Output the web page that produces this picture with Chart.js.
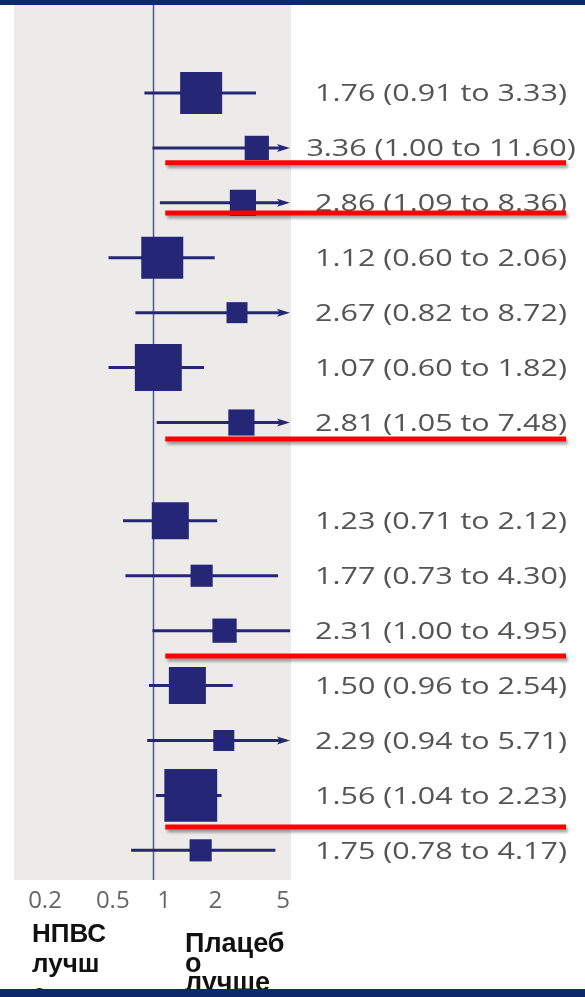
<!DOCTYPE html>
<html>
<head>
<meta charset="utf-8">
<title>Forest plot</title>
<script src="https://cdn.jsdelivr.net/npm/chart.js@4/dist/chart.umd.min.js"></script>
<style>
  html, body { margin: 0; padding: 0; background: #fff; }
  #wrap { position: relative; width: 585px; height: 997px; overflow: hidden; }
  #plot { position: absolute; left: 0; top: 0; }
  .favour {
    position: absolute;
    font-family: "Liberation Sans", Arial, sans-serif;
    font-weight: bold;
    color: #111;
    overflow-wrap: anywhere;
  }
  #favLeft  { left: 32px;  top: 918px; width: 78px;  font-size: 26px; line-height: 30px; }
  #favRight { left: 185px; top: 934px; width: 103px; font-size: 27px; line-height: 19.5px; }
  .band { position: absolute; left: 0; width: 585px; background: #0c2a69; z-index: 2; }
</style>
</head>
<body>
<div id="wrap">
  <canvas id="plot" width="585" height="997"></canvas>
  <div class="favour" id="favLeft"></div>
  <div class="favour" id="favRight"></div>
  <div class="band" style="top:0;height:5px"></div>
  <div class="band" style="top:989px;height:8px"></div>
</div>
<script>
// Odds ratios with 95% confidence intervals, top to bottom
const ratio  = [1.76, 3.36, 2.86, 1.12, 2.67, 1.07, 2.81, 1.23, 1.77, 2.31, 1.50, 2.29, 1.56, 1.75];
const lower  = [0.91, 1.00, 1.09, 0.60, 0.82, 0.60, 1.05, 0.71, 0.73, 1.00, 0.96, 0.94, 1.04, 0.78];
const upper  = [3.33, 11.60, 8.36, 2.06, 8.72, 1.82, 7.48, 2.12, 4.30, 4.95, 2.54, 5.71, 2.23, 4.17];
// Relative study weights (box area)
const weights = [36, 12, 14, 36, 9, 45, 14, 28, 10, 12, 28, 9, 57, 10];
// Which block each study belongs to
const panel   = [0, 0, 0, 0, 0, 0, 0, 1, 1, 1, 1, 1, 1, 1];
// Axis tick values and the direction captions under the axis
const xTickValues = [0.2, 0.5, 1, 2, 5];
const favourText  = ['НПВС лучше', 'Плацебо лучше'];

document.getElementById('favLeft').textContent  = favourText[0];
document.getElementById('favRight').textContent = favourText[1];

const NAVY = '#262677';
const PANEL_GAP = 0.79;           // extra spacing between the two blocks, in rows
const rowPos = ratio.map((_, i) => i + panel[i] * PANEL_GAP);
const rowLabels = ratio.map((r, i) =>
  `${r.toFixed(2)} (${lower[i].toFixed(2)} to ${upper[i].toFixed(2)})`);

const forestPlugin = {
  id: 'forest',
  beforeDraw(chart) {
    const { ctx, chartArea: a } = chart;
    ctx.save();
    ctx.fillStyle = '#ecebe9';
    ctx.fillRect(a.left, a.top, a.right - a.left, a.bottom - a.top);
    ctx.restore();
  },
  beforeDatasetsDraw(chart) {
    const { ctx, chartArea: a, scales } = chart;
    const xs = scales.x, ys = scales.y;
    ctx.save();
    // line of no effect
    const x1 = Math.round(xs.getPixelForValue(1)) + 0.5;
    ctx.strokeStyle = '#55558f';
    ctx.lineWidth = 1.5;
    ctx.beginPath();
    ctx.moveTo(x1, 0);
    ctx.lineTo(x1, a.bottom);
    ctx.stroke();
    // confidence intervals
    ctx.strokeStyle = NAVY;
    ctx.fillStyle = NAVY;
    ctx.lineWidth = 3;
    rowPos.forEach((p, i) => {
      const y = ys.getPixelForValue(p);
      const xl = xs.getPixelForValue(Math.max(lower[i], xs.min));
      const clipped = upper[i] > xs.max;
      const tip = a.right - 1;
      const xr = clipped ? tip - 10 : xs.getPixelForValue(upper[i]);
      ctx.beginPath();
      ctx.moveTo(xl, y);
      ctx.lineTo(xr, y);
      ctx.stroke();
      if (clipped) {
        ctx.beginPath();
        ctx.moveTo(tip, y);
        ctx.lineTo(tip - 13, y - 4);
        ctx.lineTo(tip - 10, y);
        ctx.lineTo(tip - 13, y + 4);
        ctx.closePath();
        ctx.fill();
      }
    });
    ctx.restore();
  },
  afterDatasetsDraw(chart, args, opts) {
    const { ctx, scales } = chart;
    const xs = scales.x, ys = scales.y;
    ctx.save();
    // estimate labels
    ctx.font = '24px "Open Sans"';
    ctx.fillStyle = '#545454';
    ctx.textAlign = 'center';
    ctx.textBaseline = 'alphabetic';
    rowPos.forEach((p, i) => {
      const y = ys.getPixelForValue(p);
      ctx.save();
      ctx.translate(opts.labelCenter, y + 8.5);
      ctx.scale(opts.labelStretch, 1);
      ctx.fillText(rowLabels[i], 0, 0);
      ctx.restore();
    });
    // highlight rows whose interval excludes no effect
    ctx.strokeStyle = '#ff0000';
    ctx.lineWidth = 5;
    ctx.shadowColor = 'rgba(0,0,0,0.35)';
    ctx.shadowBlur = 3;
    ctx.shadowOffsetX = 2;
    ctx.shadowOffsetY = 3;
    rowPos.forEach((p, i) => {
      if (lower[i] < 1) return;
      const y = ys.getPixelForValue(p + (opts.underlineOffset[i] || 0.3));
      ctx.beginPath();
      ctx.moveTo(xs.getPixelForValue(opts.underlineFrom), y);
      ctx.lineTo(opts.underlineRight, y);
      ctx.stroke();
    });
    ctx.restore();
  }
};

function build() {
  new Chart(document.getElementById('plot'), {
    type: 'scatter',
    data: {
      datasets: [{
        data: ratio.map((r, i) => ({ x: r, y: rowPos[i] })),
        pointStyle: 'rect',
        pointRadius: weights.map(w => 7 * Math.sqrt(w) / Math.SQRT2),
        pointHoverRadius: weights.map(w => 7 * Math.sqrt(w) / Math.SQRT2),
        backgroundColor: NAVY,
        borderWidth: 0,
        xAxisID: 'x',
        yAxisID: 'y'
      }]
    },
    options: {
      responsive: false,
      animation: false,
      events: [],
      devicePixelRatio: 1,
      layout: { autoPadding: false, padding: { left: 14, right: 294, top: 5, bottom: 0 } },
      scales: {
        x: { type: 'logarithmic', min: 0.2, max: 5, display: false },
        xt: {
          type: 'logarithmic',
          position: 'bottom',
          min: 0.1315, max: 5.57,
          afterBuildTicks: s => { s.ticks = xTickValues.map(v => ({ value: v })); },
          afterFit: s => { s.height = 117; },
          grid: { display: false, drawTicks: false },
          border: { display: false },
          ticks: {
            autoSkip: false,
            maxRotation: 0,
            padding: 7,
            color: '#666',
            font: { family: '"Open Sans"', size: 24 },
            callback: v => String(v)
          }
        },
        y: { type: 'linear', reverse: true, min: -1.602, max: 14.33, display: false }
      },
      plugins: {
        legend: { display: false },
        tooltip: { enabled: false },
        forest: {
          labelCenter: 441,
          labelStretch: 1.27,
          underlineFrom: 1.16,
          underlineRight: 566,
          underlineOffset: { 1: 0.27, 2: 0.185, 6: 0.30, 9: 0.46, 12: 0.575 }
        }
      }
    },
    plugins: [forestPlugin]
  });
}

if (document.fonts && document.fonts.load) {
  Promise.all([
    document.fonts.load('24px "Open Sans"'),
    document.fonts.load('bold 26px "Liberation Sans"')
  ]).then(build, build);
} else {
  build();
}
</script>
</body>
</html>
